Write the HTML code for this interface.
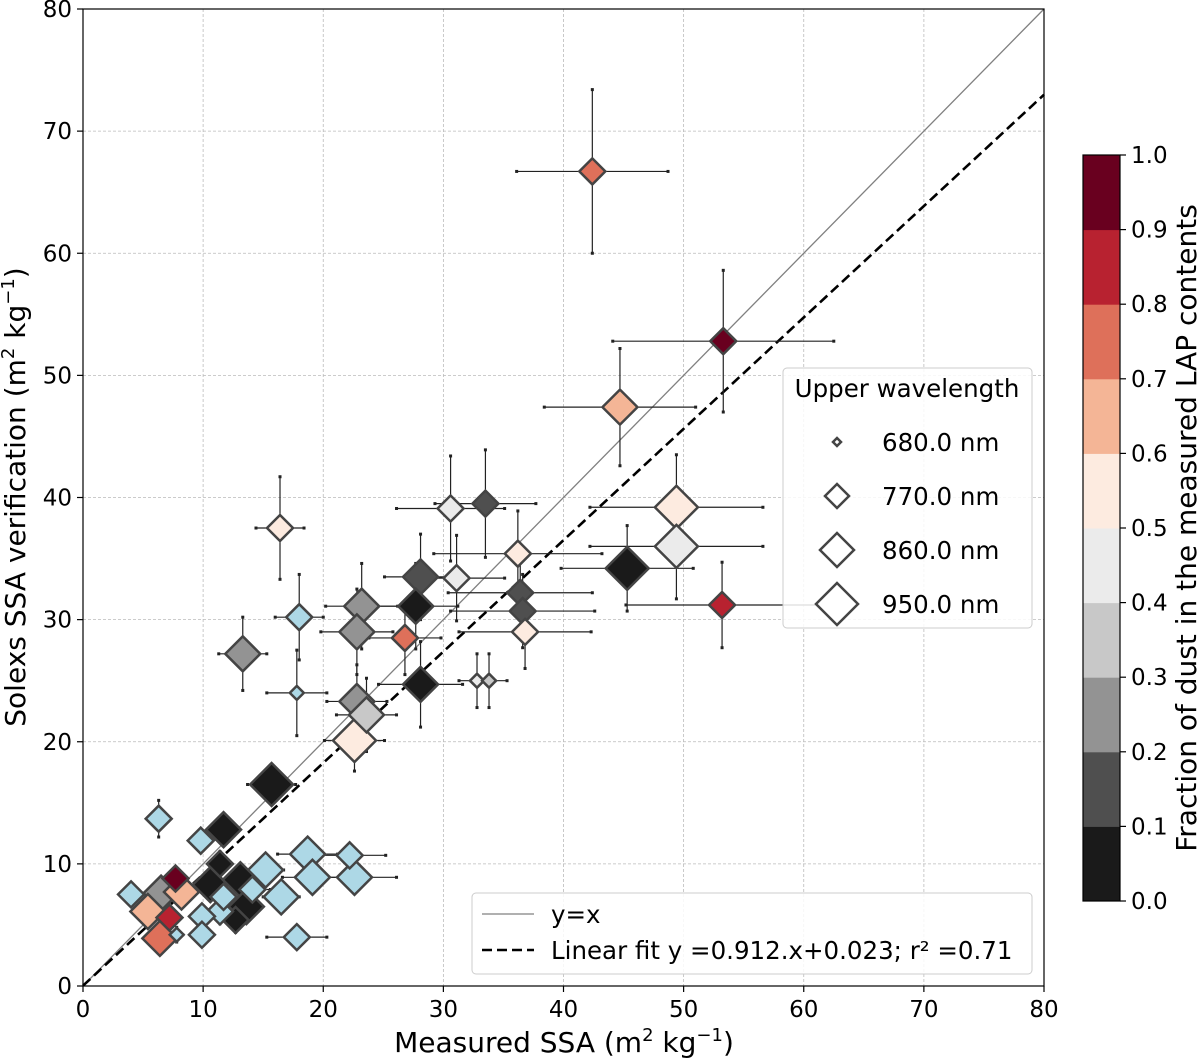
<!DOCTYPE html>
<html><head><meta charset="utf-8"><style>
body{margin:0;background:#fff;font-family:"Liberation Sans","DejaVu Sans",sans-serif}
svg text{font-family:"DejaVu Sans","Liberation Sans",sans-serif}
</style></head><body>
<svg id="c" width="1197" height="1059" viewBox="0 0 1197 1059"></svg>
<script>
const xs=[42.4,53.3,44.7,49.4,49.4,45.3,53.2,16.4,30.6,33.5,36.2,28.1,31.1,36.4,36.6,36.8,27.7,23.2,22.8,26.8,13.3,18.0,17.8,28.1,32.8,33.8,22.8,23.6,22.6,15.7,
6.3,11.7,9.8,11.4,18.7,22.2,19.1,22.6,15.2,16.5,17.8,14.1,10.6,13.1,13.6,12.7,11.4,9.9,9.9,7.8,4.0,6.5,7.7,8.2,5.4,7.2,6.4,11.7];
const ys=[66.7,52.8,47.4,39.2,36.0,34.2,31.2,37.5,39.1,39.5,35.4,33.5,33.4,32.2,30.7,29.0,31.1,31.1,29.0,28.5,27.2,30.2,24.0,24.7,25.0,25.0,23.3,22.2,20.1,16.5,
13.7,12.8,11.9,10.0,10.8,10.7,8.9,8.9,9.5,7.3,4.0,7.9,8.3,8.7,6.5,5.4,6.1,5.7,4.2,4.2,7.5,7.6,8.8,7.7,6.1,5.6,3.9,7.3];
// dust fraction (-1 = not measured, light blue)
const dust=[0.75,0.95,0.65,0.55,0.45,0.05,0.85,0.55,0.45,0.15,0.55,0.15,0.45,0.15,0.15,0.55,0.05,0.25,0.25,0.75,0.25,-1,-1,0.05,0.45,0.35,0.25,0.35,0.55,0.05,
-1,0.05,-1,0.05,-1,-1,-1,-1,-1,-1,-1,-1,0.05,0.05,0.05,0.05,-1,-1,-1,-1,-1,0.25,0.95,0.65,0.65,0.85,0.75,-1];
// wavelength class 0:680 1:770 2:860 3:950
const wl=[1,1,2,3,3,3,1,1,1,1,1,2,1,1,1,1,2,2,2,1,2,1,0,2,0,0,2,2,3,3,
1,2,1,1,2,1,2,2,2,2,1,1,2,2,2,1,1,1,1,0,1,2,1,2,2,1,2,1];
const xerr=[6.3,9.2,6.3,7.2,7.2,5.5,8,2,4.5,4.2,7,3,4,6,6,5.5,3.5,3,3,3,2,2,2.5,3.5,1.5,1.5,2.5,2.5,2.5,2,
0.5,0.8,0.6,0.8,2.5,3,2.5,3.5,1.5,1.5,2.5,1.5,0.8,1,1,1,0.8,0.6,0.5,0.5,0.5,0.5,0.5,0.6,0.5,0.5,0.5,0.8];
const yerr=[6.7,5.8,4.8,4.3,4.3,3.5,3.5,4.2,4.3,4.4,3.5,3.5,3.5,3,3,3,3.5,3.5,3.5,3,3,3.5,3.5,3.5,2.2,2.2,3,3,2.5,1,
1.5,1,0.8,1,0.8,0.8,0.8,0.8,0.8,0.8,0.5,0.8,1,1,1,1,1,0.8,0.8,0.6,0.5,0.5,0.5,0.5,0.5,0.5,0.5,0.5];
const xticks=[0,10,20,30,40,50,60,70,80], yticks=[0,10,20,30,40,50,60,70,80];
const cbTicks=[0.0,0.1,0.2,0.3,0.4,0.5,0.6,0.7,0.8,0.9,1.0];
const cbColors=['#1a1a1a','#4f4f4f','#939393','#c8c8c8','#ebebeb','#fdebe0','#f4b596','#de705a','#b82230','#69001f'];
const fitSlope=0.912, fitInt=0.023;
const wlLabels=['680.0 nm','770.0 nm','860.0 nm','950.0 nm'];
const ns='http://www.w3.org/2000/svg', svg=document.getElementById('c');
const X0=83,X1=1044,Y0=986,Y1=9;
const sx=v=>X0+(X1-X0)*v/80, sy=v=>Y0-(Y0-Y1)*v/80;
const half=[7,13,17.5,21.5], legHalf=[4,12,17,21];
function el(t,a,p){const e=document.createElementNS(ns,t);for(const k in a)e.setAttribute(k,a[k]);(p||svg).appendChild(e);return e;}
function col(d){return d<0?'#add8e6':cbColors[Math.min(9,Math.floor(d*10))];}
xticks.forEach(v=>{const g=el('line',{x1:sx(v),x2:sx(v),y1:Y1,y2:Y0,stroke:'#bbb','stroke-width':0.8,'stroke-dasharray':'3,2'});
});
yticks.forEach(v=>{const g=el('line',{x1:X0,x2:X1,y1:sy(v),y2:sy(v),stroke:'#bbb','stroke-width':0.8,'stroke-dasharray':'3,2'});
});
const idl=el('line',{x1:sx(0),y1:sy(0),x2:sx(80),y2:sy(80),stroke:'#808080','stroke-width':1.3});

const fl=el('line',{x1:sx(0),y1:sy(fitInt),x2:sx(80),y2:sy(fitSlope*80+fitInt),stroke:'#000','stroke-width':2.6,'stroke-dasharray':'10,5'});

xs.forEach((x,i)=>{const g=el('g',{stroke:'#222','stroke-width':1.2,fill:'#222'});

const cx=sx(x),cy=sy(ys[i]),l=sx(x-xerr[i]),r=sx(x+xerr[i]),t=sy(ys[i]+yerr[i]),b=sy(ys[i]-yerr[i]);
el('line',{x1:l,x2:r,y1:cy,y2:cy},g);el('line',{x1:cx,x2:cx,y1:t,y2:b},g);
[[l,cy],[r,cy],[cx,t],[cx,b]].forEach(p=>el('rect',{x:p[0]-1.5,y:p[1]-1.5,width:3,height:3,stroke:'none'},g));});
const order=xs.map((_,i)=>i).sort((a,b)=>wl[b]-wl[a]);
order.forEach(i=>{const cx=sx(xs[i]),cy=sy(ys[i]),h=half[wl[i]];
const m=el('polygon',{points:`${cx},${cy-h} ${cx+h},${cy} ${cx},${cy+h} ${cx-h},${cy}`,fill:col(dust[i]),stroke:'#444','stroke-width':2.5});
});
const fr=el('rect',{x:X0,y:Y1,width:X1-X0,height:Y0-Y1,fill:'none',stroke:'#000','stroke-width':1.2});

xticks.forEach(v=>{el('line',{x1:sx(v),x2:sx(v),y1:Y0,y2:Y0+6,stroke:'#000','stroke-width':1.2});
const t=el('text',{x:sx(v),y:Y0+31,'font-size':23,'text-anchor':'middle'});t.textContent=v;
});
yticks.forEach(v=>{el('line',{x1:X0-6,x2:X0,y1:sy(v),y2:sy(v),stroke:'#000','stroke-width':1.2});
const t=el('text',{x:X0-11,y:sy(v)+8,'font-size':23,'text-anchor':'end'});t.textContent=v;
});
const xt=el('text',{x:564,y:1052,'font-size':28,'text-anchor':'middle'});
xt.innerHTML='Measured SSA (m<tspan dy="-11" font-size="18">2</tspan><tspan dy="11"> kg</tspan><tspan dy="-11" font-size="18">−1</tspan><tspan dy="11">)</tspan>';

const yt=el('text',{x:0,y:0,'font-size':28,'text-anchor':'middle',transform:'translate(25,497) rotate(-90)'});
yt.innerHTML='Solexs SSA verification (m<tspan dy="-11" font-size="18">2</tspan><tspan dy="11"> kg</tspan><tspan dy="-11" font-size="18">−1</tspan><tspan dy="11">)</tspan>';

const lg=el('g',{});
el('rect',{x:783,y:368,width:249,height:260,rx:4,fill:'#fff','fill-opacity':0.85,stroke:'#ccc','stroke-width':1},lg);
const lt=el('text',{x:907,y:397,'font-size':24.5,'text-anchor':'middle'},lg);lt.textContent='Upper wavelength';
wlLabels.forEach((s,k)=>{const cy=442+k*54,cx=837,h=legHalf[k];
const m=el('polygon',{points:`${cx},${cy-h} ${cx+h},${cy} ${cx},${cy+h} ${cx-h},${cy}`,fill:'#fff',stroke:'#444','stroke-width':2.5},lg);

const t=el('text',{x:882,y:cy+9,'font-size':24.5},lg);t.textContent=s;
});
const l2=el('g',{});
el('rect',{x:472,y:893,width:560,height:81,rx:4,fill:'#fff','fill-opacity':0.85,stroke:'#ccc','stroke-width':1},l2);
el('line',{x1:482,x2:534,y1:914,y2:914,stroke:'#808080','stroke-width':1.3},l2);
el('line',{x1:482,x2:534,y1:950,y2:950,stroke:'#000','stroke-width':2.6,'stroke-dasharray':'10,5'},l2);
const a=el('text',{x:551,y:923,'font-size':24.5},l2);a.textContent='y=x';
const b=el('text',{x:551,y:959,'font-size':24.5},l2);b.textContent='Linear fit y =0.912.x+0.023; r² =0.71';
const CB0=901,CB1=155,cbx=1083,cbw=37;
const cbs=v=>CB0-(CB0-CB1)*v;
cbColors.forEach((c,k)=>{const r=el('rect',{x:cbx,y:cbs((k+1)/10),width:cbw,height:cbs(k/10)-cbs((k+1)/10)+0.5,fill:c});
});
el('rect',{x:cbx,y:CB1,width:cbw,height:CB0-CB1,fill:'none',stroke:'#000','stroke-width':1.2});
cbTicks.forEach(v=>{el('line',{x1:cbx+cbw,x2:cbx+cbw+6,y1:cbs(v),y2:cbs(v),stroke:'#000','stroke-width':1.2});
const t=el('text',{x:1131,y:cbs(v)+8,'font-size':23});t.textContent=v.toFixed(1);
});
const ct=el('text',{x:0,y:0,'font-size':28,'text-anchor':'middle',transform:'translate(1196,528) rotate(-90)'});
ct.textContent='Fraction of dust in the measured LAP contents';

</script>
</body></html>
